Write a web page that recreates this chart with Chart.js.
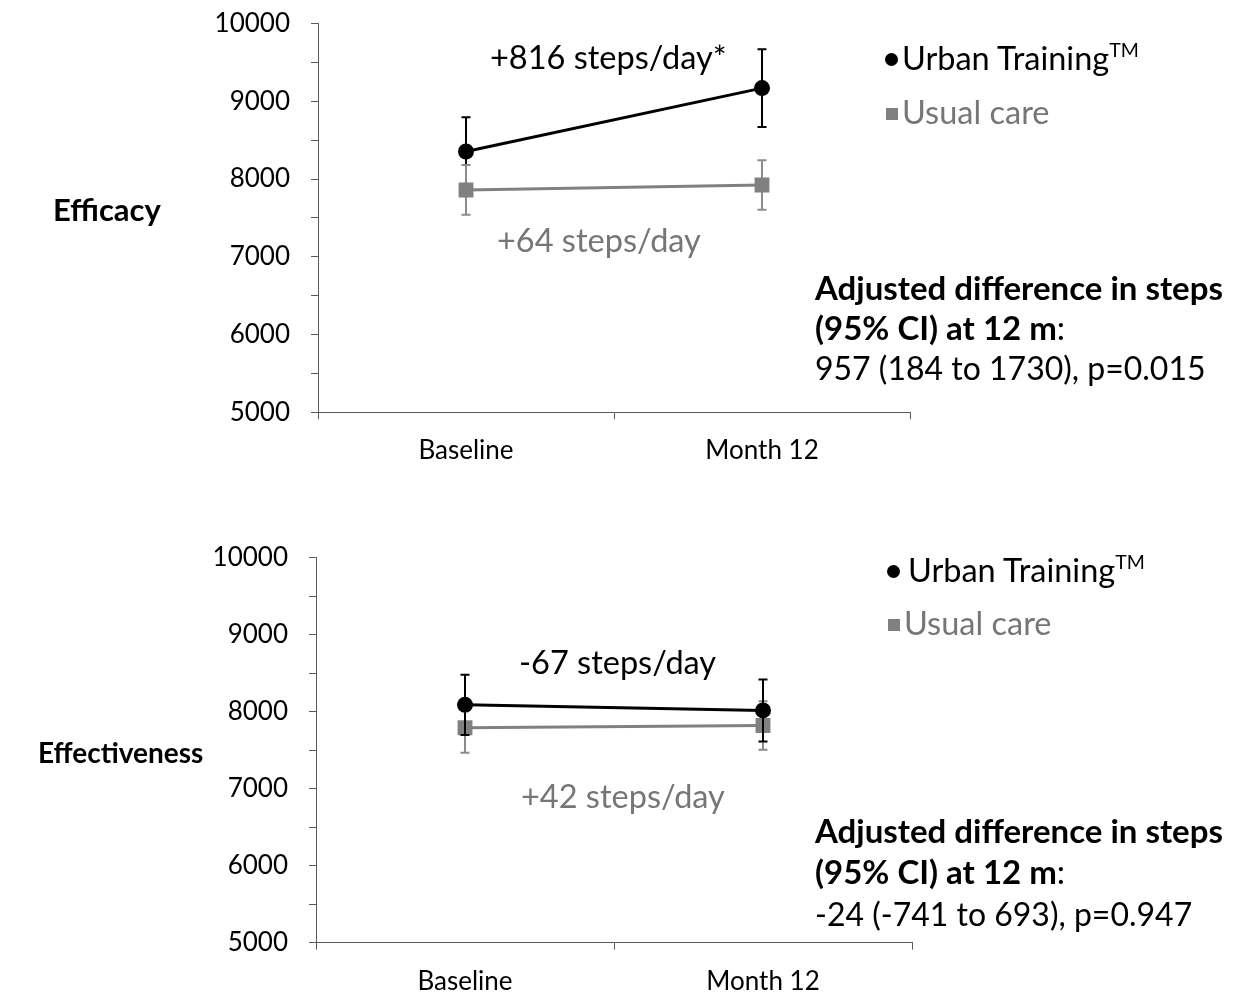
<!DOCTYPE html>
<html>
<head>
<meta charset="utf-8">
<script src="https://cdn.jsdelivr.net/npm/chart.js@4.4.1/dist/chart.umd.min.js"></script>
<style>
  html, body { margin: 0; padding: 0; background: #fff; overflow: hidden; width: 1234px; height: 993px; }
  .wrap { position: absolute; left: 0; width: 1234px; }
  .t { position: absolute; font-family: Lato, "Liberation Sans", sans-serif; line-height: 1; white-space: nowrap; color: #000; }
  .b { font-weight: bold; }
  .g { color: #767676; }
  .dot { display: inline-block; width: 13px; height: 13px; border-radius: 50%; background: #000; vertical-align: middle; margin-right: 4px; position: relative; top: -2px; }
  .sq { display: inline-block; width: 12px; height: 12px; background: #808080; vertical-align: middle; margin-right: 4px; position: relative; top: -2px; }
  sup { font-size: 60%; position: relative; top: -0.05em; }
</style>
</head>
<body>
<div class="wrap" style="top:-13.3px;height:480px"><canvas id="c1"></canvas></div>
<div class="wrap" style="top:520.7px;height:476px"><canvas id="c2"></canvas></div>

<div class="t b" style="left:53px;top:194px;font-size:31px">Efficacy</div>
<div class="t" style="left:490px;top:41px;font-size:32.5px">+816 steps/day*</div>
<div class="t g" style="left:497px;top:224px;font-size:32.5px">+64 steps/day</div>
<div class="t" style="left:885px;top:41px;font-size:32.5px"><span class="dot"></span>Urban Training<sup>TM</sup></div>
<div class="t g" style="left:886px;top:96px;font-size:32.5px"><span class="sq"></span>Usual care</div>
<div class="t b" style="left:815px;top:271px;font-size:33px">Adjusted difference in steps</div>
<div class="t" style="left:815px;top:311px;font-size:33px"><b>(95% CI) at 12 m</b>:</div>
<div class="t" style="left:815px;top:352px;font-size:32px">957 (184 to 1730), p=0.015</div>

<div class="t b" style="left:38px;top:738px;font-size:28px">Effectiveness</div>
<div class="t" style="left:519px;top:646px;font-size:32.5px">-67 steps/day</div>
<div class="t g" style="left:521px;top:780px;font-size:32.5px">+42 steps/day</div>
<div class="t" style="left:887px;top:553px;font-size:32.5px"><span class="dot" style="margin-right:8px"></span>Urban Training<sup>TM</sup></div>
<div class="t g" style="left:888px;top:607px;font-size:32.5px"><span class="sq"></span>Usual care</div>
<div class="t b" style="left:815px;top:814px;font-size:33px">Adjusted difference in steps</div>
<div class="t" style="left:815px;top:855px;font-size:33px"><b>(95% CI) at 12 m</b>:</div>
<div class="t" style="left:815px;top:898px;font-size:32px">-24 (-741 to 693), p=0.947</div>

<script>
const categories = ['Baseline', 'Month 12'];
const yTicks = [5000, 6000, 7000, 8000, 9000, 10000];

// Efficacy
const effUrban = [8355, 9170];
const effUrbanErr = [440, 500];
const effCare = [7860, 7924];
const effCareErr = [320, 318];

// Effectiveness
const effvUrban = [8088, 8015];
const effvUrbanErr = [392, 402];
const effvCare = [7790, 7820];
const effvCareErr = [324, 315];

const BLACK = '#000000';
const GRAY = '#808080';
const AXIS = '#595959';

const errorBarPlugin = {
  id: 'errorBars',
  _draw(chart, phase) {
    const opts = chart.options.plugins.errorBars;
    const ctx = chart.ctx;
    const yScale = chart.scales.y;
    opts.bars.forEach(b => {
      if (b.phase !== phase) return;
      const meta = chart.getDatasetMeta(b.dataset);
      const data = chart.data.datasets[b.dataset].data;
      ctx.save();
      ctx.strokeStyle = b.color;
      ctx.lineWidth = 2;
      meta.data.forEach((pt, i) => {
        const x = pt.x;
        const yTop = yScale.getPixelForValue(data[i] + b.err[i]);
        const yBot = yScale.getPixelForValue(data[i] - b.err[i]);
        ctx.beginPath();
        ctx.moveTo(x, yTop); ctx.lineTo(x, yBot);
        ctx.moveTo(x - 4.5, yTop); ctx.lineTo(x + 4.5, yTop);
        ctx.moveTo(x - 4.5, yBot); ctx.lineTo(x + 4.5, yBot);
        ctx.stroke();
      });
      ctx.restore();
    });
  },
  beforeDatasetsDraw(chart) { this._draw(chart, 'before'); },
  afterDatasetsDraw(chart) { this._draw(chart, 'after'); }
};

function makeChart(id, urban, care, bars, yWidth, padRight, xHeight, padTop) {
  return new Chart(document.getElementById(id), {
    type: 'line',
    data: {
      labels: categories,
      datasets: [
        { label: 'Urban Training', data: urban, borderColor: BLACK, backgroundColor: BLACK, borderWidth: 3,
          pointStyle: 'circle', pointRadius: 8, pointHoverRadius: 8, pointBorderWidth: 0, tension: 0 },
        { label: 'Usual care', data: care, borderColor: GRAY, backgroundColor: GRAY, borderWidth: 3,
          pointStyle: 'rect', pointRadius: 10.5, pointHoverRadius: 10.5, pointBorderWidth: 0, tension: 0 }
      ]
    },
    options: {
      responsive: true,
      maintainAspectRatio: false,
      animation: false,
      events: [],
      layout: { padding: { left: 0, right: padRight, top: padTop, bottom: 0 } },
      plugins: {
        legend: { display: false },
        tooltip: { enabled: false },
        errorBars: { bars: bars }
      },
      scales: {
        x: {
          type: 'category',
          offset: true,
          grid: { display: true, offset: true, drawOnChartArea: false, drawTicks: true, tickLength: 7, color: AXIS, lineWidth: 1 },
          border: { display: true, color: AXIS, width: 1 },
          ticks: { color: '#000', font: { family: 'Lato', size: 26 }, padding: 16, maxRotation: 0 },
          afterFit(s) { s.height = xHeight; }
        },
        y: {
          min: 5000, max: 10000,
          grid: { display: true, drawOnChartArea: false, drawTicks: true, tickLength: 7, color: AXIS, lineWidth: 1 },
          border: { display: true, color: AXIS, width: 1 },
          ticks: {
            stepSize: 500, autoSkip: false, color: '#000', font: { family: 'Lato', size: 26 }, padding: 21,
            callback: v => yTicks.includes(v) ? String(v) : ''
          },
          afterFit(s) { s.width = yWidth; }
        }
      }
    },
    plugins: [errorBarPlugin]
  });
}

makeChart('c1', effUrban, effCare, [
  { dataset: 0, err: effUrbanErr, color: BLACK, phase: 'before' },
  { dataset: 1, err: effCareErr, color: '#8c8c8c', phase: 'before' }
], 318, 324, 54.7, 8.7);

makeChart('c2', effvUrban, effvCare, [
  { dataset: 1, err: effvCareErr, color: '#8c8c8c', phase: 'before' },
  { dataset: 0, err: effvUrbanErr, color: BLACK, phase: 'after' }
], 316, 322, 54.4, 8.7);
</script>
</body>
</html>
